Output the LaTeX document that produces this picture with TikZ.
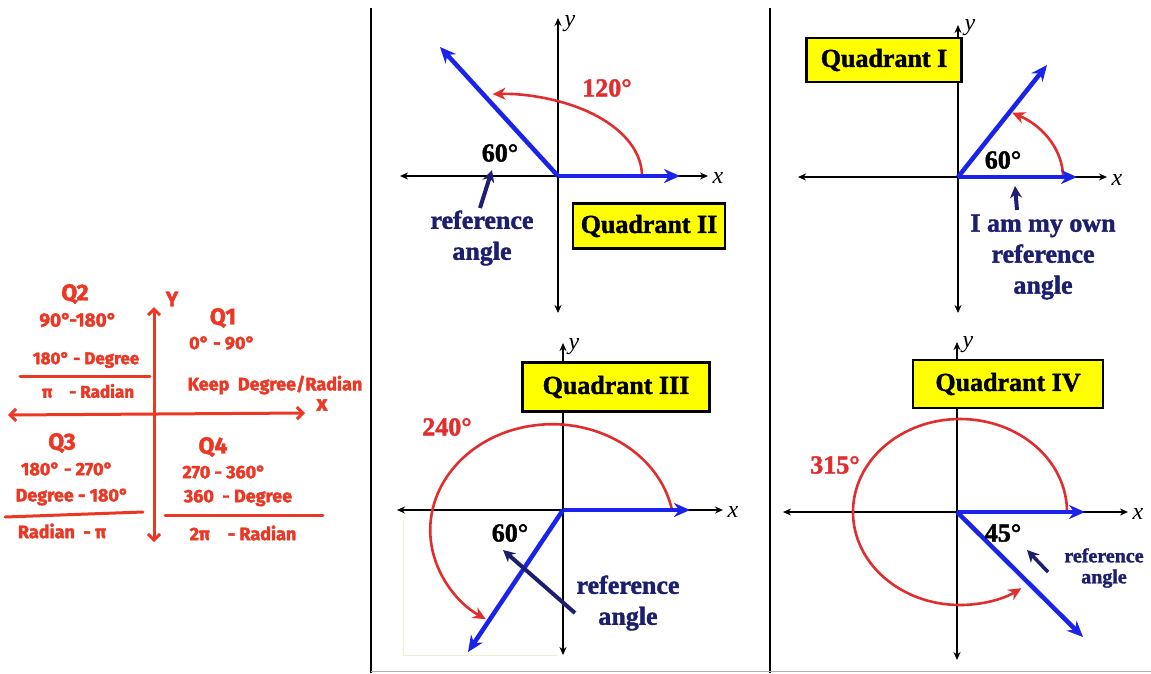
\documentclass[tikz,border=0pt]{standalone}
\usepackage{fontspec}
\setmainfont{Liberation Serif}[BoldFeatures={FakeBold=1.5}]
\newfontfamily\hand{Fira Sans}[BoldFeatures={FakeBold=2}]
\usetikzlibrary{arrows.meta}
\definecolor{hred}{RGB}{235,55,35}
\definecolor{armblue}{RGB}{25,35,235}
\definecolor{refnavy}{RGB}{30,30,110}
\definecolor{arcred}{RGB}{225,45,45}
\definecolor{boxyellow}{RGB}{255,255,0}
\definecolor{paleline}{RGB}{238,238,205}
\begin{document}
\begin{tikzpicture}[x=1pt,y=-1pt,
  axis/.style={draw=black, line width=1.6pt, {Stealth[length=8pt,width=7pt]}-{Stealth[length=8pt,width=7pt]}},
  arm/.style={draw=armblue, line width=4.5pt, -{Stealth[length=16pt,width=14pt]}},
  refarrow/.style={draw=refnavy, line width=4pt, -{Stealth[length=12pt,width=12pt]}},
  turn/.style={draw=arcred, line width=2.6pt, -{Stealth[length=13pt,width=12pt]}},
  quadbox/.style={draw=black, line width=2.5pt, fill=boxyellow, font=\fontsize{26}{30}\selectfont\bfseries, inner sep=0pt},
  reftext/.style={text=refnavy, font=\fontsize{26}{31}\selectfont\bfseries, align=center},
  deg/.style={font=\fontsize{26}{30}\selectfont\bfseries},
  axlabel/.style={font=\fontsize{24}{28}\selectfont\itshape, anchor=west},
  hw/.style={text=hred, font=\hand\fontsize{18}{22}\selectfont\bfseries},
  hwbig/.style={text=hred, font=\hand\fontsize{23}{26}\selectfont\bfseries},
  hwsmall/.style={text=hred, font=\hand\fontsize{17}{20}\selectfont\bfseries},
  hline/.style={draw=hred, line width=3pt, line cap=round},
  haxis/.style={draw=hred, line width=3pt, line cap=round, {Straight Barb[length=6pt,width=12pt]}-{Straight Barb[length=6pt,width=12pt]}}
]
\useasboundingbox (0,0) rectangle (1151,673);
\fill[white] (0,0) rectangle (1151,673);

% frame lines
\coordinate (d1t) at (371,8); \coordinate (d1b) at (371,673);
\coordinate (d2t) at (770,8); \coordinate (d2b) at (770,673);
\coordinate (gbl) at (371,671); \coordinate (gbr) at (1151,671);
\draw[line width=1.5pt] (d1t) -- (d1b);
\draw[line width=1.5pt] (d2t) -- (d2b);
\draw[gray!60, line width=1pt] (gbl) -- (gbr);

% ================= handwritten part
\coordinate (hyT) at (154,307); \coordinate (hyB) at (154,542);
\coordinate (hxL) at (8,415); \coordinate (hxR) at (305,413);
\draw[haxis] (hyB) -- (hyT);
\draw[haxis] (hxL) -- (hxR);
\node[hwbig, font=\hand\fontsize{21}{24}\selectfont\bfseries] (hY) at (172,299) {Y};
\node[hwbig, font=\hand\fontsize{21}{24}\selectfont\bfseries] (hX) at (322,405) {x};
\node[hwbig] (hQ2) at (75,294) {Q2};
\node[hw, font=\hand\fontsize{19}{22}\selectfont\bfseries] (h2a) at (78,320) {90°-180°};
\node[hwsmall] (h2b) at (86,360) {180° - Degree};
\coordinate (f2l) at (20,376); \coordinate (f2r) at (150,376);
\draw[hline] (f2l) -- (f2r);
\node[hwsmall] (h2c) at (88,391) {π\quad- Radian};
\node[hwbig] (hQ1) at (223,318) {Q1};
\node[hw] (h1a) at (222,343) {0° - 90°};
\node[hw, font=\hand\fontsize{18}{20}\selectfont\bfseries] (h1b) at (275,385) {Keep\ \ Degree/Radian};
\node[hwbig] (hQ3) at (62,443) {Q3};
\node[hw] (h3a) at (67,469) {180° - 270°};
\node[hw] (h3b) at (72,497) {Degree - 180°};
\coordinate (f3l) at (5,517); \coordinate (f3r) at (143,512);
\draw[hline] (f3l) -- (f3r);
\node[hw] (h3c) at (62,531) {Radian\ \ - π};
\node[hwbig] (hQ4) at (213,447) {Q4};
\node[hw] (h4a) at (224,472) {270 - 360°};
\node[hw] (h4b) at (238,498) {360\ \ - Degree};
\coordinate (f4l) at (165,515); \coordinate (f4r) at (323,515);
\draw[hline] (f4l) -- (f4r);
\node[hw] (h4c) at (243,533) {2π\quad- Radian};

% ================= Quadrant II panel
\coordinate (O2) at (558,176);
\coordinate (X2a) at (400,176); \coordinate (X2b) at (708,176);
\coordinate (Y2a) at (558,18); \coordinate (Y2b) at (558,313);
\draw[axis] (X2a) -- (X2b);
\draw[axis] (Y2b) -- (Y2a);
\node[axlabel] (ylab2) at (561,24) {y};
\node[axlabel] (xlab2) at (709,178) {x};
\coordinate (A2) at (642,176);
\draw[turn] (A2) arc[start angle=0, end angle=93, x radius=142pt, y radius=82pt];
\coordinate (I2) at (680,176); \coordinate (T2) at (440,47);
\draw[arm] (O2) -- (I2);
\draw[arm] (O2) -- (T2);
\node[deg, text=arcred] (l120) at (607,88) {120°};
\node[deg] (l60a) at (500,153) {60°};
\node[reftext] (ref2) at (482,238) {reference\\angle};
\coordinate (r2s) at (480,208); \coordinate (r2e) at (492,170);
\draw[refarrow] (r2s) -- (r2e);
\node[quadbox, minimum width=152pt, minimum height=45pt] (q2) at (649,226) {Quadrant II};

% ================= Quadrant I panel
\coordinate (O1) at (958,177);
\coordinate (X1a) at (798,177); \coordinate (X1b) at (1107,177);
\coordinate (Y1a) at (958,25); \coordinate (Y1b) at (958,313);
\draw[axis] (X1a) -- (X1b);
\draw[axis] (Y1b) -- (Y1a);
\node[axlabel] (ylab1) at (961,28) {y};
\node[axlabel] (xlab1) at (1108,180) {x};
\node[quadbox, minimum width=155pt, minimum height=44pt] (q1) at (884,60) {Quadrant I};
\coordinate (A1) at (1063,177);
\draw[turn] (A1) arc[start angle=0, end angle=59, x radius=105pt, y radius=75pt];
\coordinate (I1) at (1077,177); \coordinate (T1) at (1047,65);
\draw[arm] (O1) -- (I1);
\draw[arm] (O1) -- (T1);
\node[deg] (l60b) at (1003,160) {60°};
\coordinate (r1s) at (1017,210); \coordinate (r1e) at (1015,186);
\draw[refarrow] (r1s) -- (r1e);
\node[reftext] (ref1) at (1043,257) {I am my own\\reference\\angle};

% ================= Quadrant III panel
\coordinate (p3a) at (403,520); \coordinate (p3b) at (403,655); \coordinate (p3c) at (557,655);
\draw[paleline, line width=1pt] (p3a) -- (p3b) -- (p3c);
\coordinate (O3) at (563,510);
\coordinate (X3a) at (397,510); \coordinate (X3b) at (723,510);
\coordinate (Y3a) at (563,343); \coordinate (Y3b) at (563,655);
\draw[axis] (X3a) -- (X3b);
\draw[axis] (Y3b) -- (Y3a);
\node[axlabel] (ylab3) at (565,347) {y};
\node[axlabel] (xlab3) at (724,512) {x};
\node[quadbox, minimum width=187pt, minimum height=49pt] (q3) at (616,387) {Quadrant III};
\coordinate (A3) at (672,510);
\draw[turn] (A3) arc[start angle=11, end angle=237, x radius=122pt, y radius=106pt];
\coordinate (I3) at (690,510); \coordinate (T3) at (468,652);
\draw[arm] (O3) -- (I3);
\draw[arm] (O3) -- (T3);
\node[deg, text=arcred] (l240) at (447,427) {240°};
\node[deg] (l60c) at (510,533) {60°};
\coordinate (r3s) at (575,613); \coordinate (r3e) at (503,550);
\draw[refarrow] (r3s) -- (r3e);
\node[reftext] (ref3) at (628,603) {reference\\angle};

% ================= Quadrant IV panel
\coordinate (O4) at (957,512);
\coordinate (X4a) at (783,512); \coordinate (X4b) at (1128,512);
\coordinate (Y4a) at (957,342); \coordinate (Y4b) at (957,660);
\draw[axis] (X4a) -- (X4b);
\draw[axis] (Y4b) -- (Y4a);
\node[axlabel] (ylab4) at (959,345) {y};
\node[axlabel] (xlab4) at (1129,514) {x};
\node[quadbox, minimum width=190pt, minimum height=48pt] (q4) at (1008,384) {Quadrant IV};
\coordinate (A4) at (1067,512);
\draw[turn] (A4) arc[start angle=0, end angle=305, x radius=107pt, y radius=93pt];
\coordinate (I4) at (1085,512); \coordinate (T4) at (1083,637);
\draw[arm] (O4) -- (I4);
\draw[arm] (O4) -- (T4);
\node[deg, text=arcred] (l315) at (835,465) {315°};
\node[deg] (l45) at (1003,533) {45°};
\coordinate (r4s) at (1048,572); \coordinate (r4e) at (1027,550);
\draw[refarrow, line width=3.5pt] (r4s) -- (r4e);
\node[reftext, font=\fontsize{20}{21}\selectfont\bfseries] (ref4) at (1104,568) {reference\\angle};
\end{tikzpicture}
\end{document}
